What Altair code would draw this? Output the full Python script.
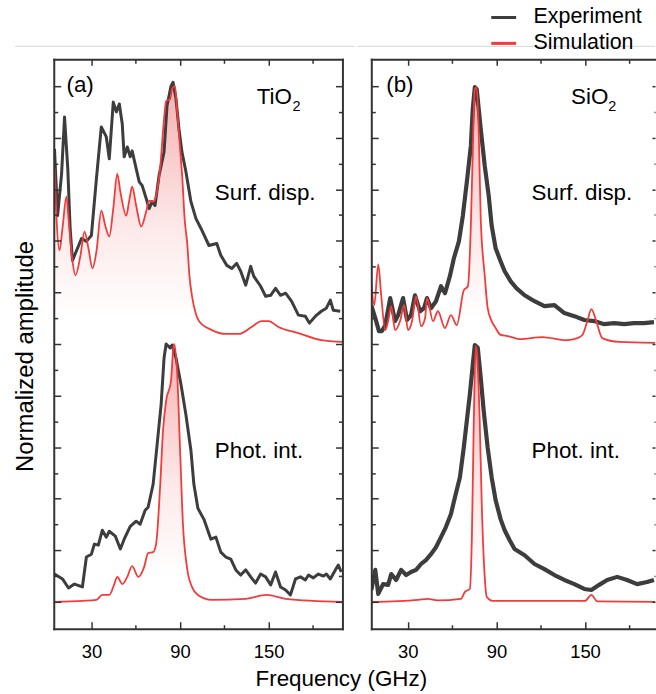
import altair as alt
import pandas as pd

# ------------------------------------------------------------------ data
SOURCES = ["Experiment", "Simulation"]
PANEL_TAGS = ["(a)", "(b)"]
MATERIALS = [("TiO", "2"), ("SiO", "2")]
MODE_LABELS = ["Surf. disp.", "Phot. int."]
X_TICKS = [30, 90, 150]
X_MINOR = [60, 120, 180]

# (a) TiO2 – surface displacement
a_surf_exp_f = [5, 7.1, 9.8, 11.8, 14.0, 15.6, 17.2, 23.3, 26.6, 30, 33.4, 36.7, 40.1, 42.1, 44.8,
                46.9, 48.9, 50.9, 52.2, 54.3, 56.3, 57.6, 60.3, 62.4, 64.4, 67.1, 69.1, 71.1, 73.1, 75.8,
                79.2, 81.2, 83.9, 85.3, 87.3, 89.3, 91.3, 94.0, 97.4, 100.8, 104.2, 109.6, 114.9, 117.6, 121.7,
                125.1, 128.4, 131.1, 134.5, 137.9, 139.9, 144.6, 148.0, 151.4, 154.7, 158.1, 161.5, 165.5, 170.2, 174.9,
                177.6, 181.7, 185.7, 189.1, 191.8, 193.8, 198.5]
a_surf_exp_v = [0.757, 0.498, 0.66, 0.880, 0.68, 0.448, 0.324, 0.409, 0.398, 0.421, 0.641, 0.842, 0.803, 0.718, 0.938,
                0.900, 0.931, 0.853, 0.726, 0.764, 0.726, 0.749, 0.680, 0.629, 0.614, 0.564, 0.525, 0.552, 0.537, 0.653,
                0.745, 0.923, 1.000, 1.015, 0.950, 0.834, 0.745, 0.668, 0.552, 0.486, 0.448, 0.382, 0.390, 0.344, 0.305,
                0.293, 0.313, 0.282, 0.228, 0.301, 0.263, 0.224, 0.185, 0.189, 0.216, 0.189, 0.197, 0.166, 0.112, 0.108,
                0.081, 0.108, 0.127, 0.139, 0.170, 0.131, 0.127]
a_surf_sim_f = [5.1, 6.4, 8.4, 10.4, 13.1, 14.5, 17.2, 19.2, 22.6, 25.3, 28.0, 30.7, 33.4, 36.7, 39.4,
                42.1, 44.8, 47.5, 49.6, 53.6, 55.6, 57.6, 60.3, 63.7, 67.1, 69.1, 71.8, 73.8, 76.5, 79.2,
                80.6, 83.3, 84.6, 86.6, 88.0, 90.0, 91.6, 93.2, 94.9, 96.3, 98.3, 100.6, 102.8, 111.6, 121.0,
                129.8, 138.5, 145.3, 150.0, 156.7, 170.2, 185.7, 199.9]
a_surf_sim_v = [0.680, 0.486, 0.363, 0.448, 0.571, 0.486, 0.320, 0.266, 0.344, 0.436, 0.371, 0.293, 0.359, 0.517, 0.459,
                0.417, 0.525, 0.660, 0.591, 0.498, 0.556, 0.610, 0.537, 0.456, 0.514, 0.556, 0.552, 0.575, 0.680, 0.873,
                0.942, 0.950, 0.988, 1.000, 0.911, 0.76, 0.64, 0.48, 0.39, 0.27, 0.18, 0.12, 0.089, 0.054, 0.039,
                0.039, 0.066, 0.089, 0.089, 0.066, 0.042, 0.015, 0.008]
# (a) TiO2 – photoelastic interaction
a_phot_exp_f = [5, 10.4, 14.5, 18.5, 23.9, 26.6, 30.0, 32.0, 34.7, 37.4, 40.1, 42.1, 46.2, 49.6, 52.2,
                56.3, 60.3, 63.0, 66.4, 68.4, 71.8, 74.5, 77.2, 79.2, 80.6, 83.3, 84.6, 87.3, 90.7, 94.0,
                97.4, 99.4, 102.1, 106.2, 110.9, 114.3, 117.6, 121.0, 124.4, 127.8, 131.1, 134.5, 137.9, 141.2, 144.6,
                148.0, 151.4, 154.7, 158.1, 161.5, 164.8, 168.2, 171.6, 174.9, 177.0, 180.3, 183.7, 187.1, 189.1, 191.8,
                195.2, 197.2, 199.2]
a_phot_exp_v = [0.108, 0.089, 0.054, 0.069, 0.058, 0.174, 0.185, 0.224, 0.220, 0.278, 0.251, 0.274, 0.255, 0.205, 0.243,
                0.293, 0.313, 0.301, 0.355, 0.367, 0.456, 0.610, 0.764, 0.946, 1.000, 0.985, 0.996, 0.946, 0.842, 0.726,
                0.587, 0.456, 0.363, 0.320, 0.243, 0.251, 0.193, 0.174, 0.166, 0.124, 0.104, 0.124, 0.097, 0.073, 0.108,
                0.097, 0.066, 0.116, 0.058, 0.046, 0.027, 0.089, 0.097, 0.085, 0.104, 0.093, 0.108, 0.100, 0.108, 0.089,
                0.124, 0.143, 0.116]
a_phot_sim_f = [5, 23.9, 33.4, 37.4, 42.1, 45.5, 47.5, 50.9, 54.3, 57.6, 61.7, 65.7, 68.4, 71.8, 73.8,
                76.5, 78.5, 80.6, 83.9, 85.3, 86.0, 88.0, 90.0, 92.0, 94.7, 98.1, 102.1, 111.6, 134.5, 148.7,
                161.5, 199.9]
a_phot_sim_v = [0, 0.004, 0.008, 0.027, 0.027, 0.069, 0.097, 0.069, 0.097, 0.139, 0.097, 0.135, 0.189, 0.193, 0.224,
                0.444, 0.664, 0.780, 0.857, 0.973, 1.000, 0.896, 0.598, 0.301, 0.135, 0.058, 0.027, 0.008, 0.012, 0.027,
                0.012, 0]
# (b) SiO2 – surface displacement
b_surf_exp_f = [5.3, 8.0, 10.5, 12.5, 14.7, 18.1, 21.4, 23.5, 26.8, 29.5, 32.2, 34.9, 38.3, 41.0, 43.0,
                45.7, 49.1, 52.5, 55.2, 58.5, 61.2, 64.6, 67.3, 70.0, 72.7, 74.0, 75.4, 76.7, 79.4, 82.1,
                84.8, 86.8, 89.5, 92.9, 95.6, 99.7, 103.7, 109.1, 115.8, 122.5, 129.3, 136.0, 142.8, 149.5, 156.3,
                163.0, 169.8, 176.5, 183.2, 190.0, 196.7]
b_surf_exp_v = [0.15, 0.10, 0.05, 0.05, 0.073, 0.178, 0.089, 0.112, 0.178, 0.093, 0.112, 0.189, 0.127, 0.139, 0.178,
                0.139, 0.166, 0.224, 0.197, 0.263, 0.332, 0.398, 0.498, 0.629, 0.768, 0.911, 0.996, 0.988, 0.834, 0.691,
                0.575, 0.459, 0.371, 0.320, 0.282, 0.243, 0.216, 0.189, 0.166, 0.147, 0.151, 0.120, 0.108, 0.093, 0.089,
                0.077, 0.081, 0.077, 0.081, 0.081, 0.085]
b_surf_sim_f = [5.2, 7.3, 10.0, 12.0, 14.7, 16.7, 18.8, 21.4, 24.8, 27.5, 30.2, 32.9, 35.6, 39.0, 41.7,
                43.0, 47.1, 50.4, 55.2, 59.2, 63.2, 67.9, 70.7, 72.7, 74.0, 75.4, 76.7, 78.1, 79.4, 82.1,
                84.1, 86.8, 89.5, 92.9, 97.6, 105.7, 121.2, 137.4, 144.9, 148.2, 151.6, 154.3, 157.6, 161.7, 173.1,
                197.4]
b_surf_sim_v = [0.243, 0.151, 0.309, 0.189, 0.054, 0.089, 0.147, 0.054, 0.089, 0.151, 0.054, 0.089, 0.185, 0.069, 0.100,
                0.178, 0.089, 0.127, 0.062, 0.112, 0.073, 0.208, 0.224, 0.459, 0.745, 0.988, 0.996, 0.807, 0.486, 0.266,
                0.139, 0.089, 0.062, 0.035, 0.031, 0.019, 0.027, 0.015, 0.023, 0.035, 0.089, 0.135, 0.089, 0.023, 0.008,
                0.004]
# (b) SiO2 – photoelastic interaction
b_phot_exp_f = [5.3, 8.0, 10.0, 13.3, 16.7, 18.8, 22.1, 25.5, 28.9, 32.2, 35.6, 39.0, 42.3, 45.7, 49.1,
                52.5, 55.8, 59.2, 61.9, 65.3, 67.9, 70.0, 72.0, 74.0, 75.4, 77.4, 79.4, 81.4, 84.1, 86.8,
                89.5, 92.9, 95.6, 99.0, 102.3, 109.1, 115.8, 122.5, 129.3, 136.0, 142.8, 149.5, 154.3, 159.6, 165.0,
                171.8, 178.5, 185.3, 192.0, 196.7]
b_phot_exp_v = [0.046, 0.124, 0.031, 0.069, 0.066, 0.108, 0.085, 0.124, 0.104, 0.116, 0.124, 0.147, 0.162, 0.185, 0.212,
                0.251, 0.290, 0.340, 0.405, 0.483, 0.598, 0.703, 0.803, 0.919, 0.996, 0.985, 0.869, 0.741, 0.598, 0.483,
                0.394, 0.320, 0.278, 0.239, 0.205, 0.181, 0.147, 0.127, 0.104, 0.085, 0.069, 0.050, 0.046, 0.066, 0.085,
                0.097, 0.085, 0.069, 0.077, 0.085]
b_phot_sim_f = [5.3, 37, 43.7, 50, 66, 68.7, 72.0, 73.4, 74.7, 76.0, 76.7, 78.7, 80.1, 82.1, 83.5,
                87.5, 150, 154.3, 158.3, 197.4]
b_phot_sim_v = [0, 0.008, 0.012, 0.006, 0.012, 0.039, 0.050, 0.251, 0.703, 0.992, 0.973, 0.703, 0.378, 0.097, 0.019,
                0.004, 0.004, 0.027, 0.002, 0]

# ------------------------------------------------------------------ style
FONT = "Liberation Sans"
AX = "#333333"
EXP_C = "#3d3d3d"
SIM_C = "#f23b3b"
HEIGHT = 572
YDOM = [-0.104, 2.104]
OFFSET = {"surf": 1.0, "phot": 0.0}


def curve(mode, source, f, v):
    assert len(f) == len(v), (mode, source, len(f), len(v))
    off = OFFSET[mode]
    return pd.DataFrame({"mode": mode, "source": source, "freq": f, "amp": v,
                         "y": [a + off for a in v], "base": off})


LEGEND = alt.Legend(title=None, orient="none", legendX=438, legendY=-56, direction="vertical",
                    symbolType="stroke", symbolSize=625, symbolStrokeWidth=3,
                    labelFont=FONT, labelFontSize=21.5, labelColor="black", labelOffset=16,
                    rowPadding=1, padding=0)
COLOR = alt.Color("source:N", scale=alt.Scale(domain=SOURCES, range=[EXP_C, SIM_C]), legend=LEGEND)


def tick_axis(orient, values, size):
    return alt.Axis(orient=orient, values=values, ticks=True, tickSize=size, offset=-size,
                    tickColor=AX, tickWidth=1.5, domain=False, labels=False, grid=False,
                    title=None, zindex=3)


def line_axis(orient, **kw):
    return alt.Axis(orient=orient, values=[], ticks=False, labels=False, domain=True,
                    domainColor=AX, domainWidth=2, domainCap="square", grid=False, zindex=3, **kw)


def build_panel(idx, exp_df, sim_df, xdom, width, ann_x, sub_x, rule_x, exp_w, right_dom, rmaj, rmin):
    xs = alt.Scale(domain=xdom, nice=False, zero=False)
    ys = alt.Scale(domain=YDOM, nice=False, zero=False)

    bottom_main = alt.Axis(orient="bottom", values=X_TICKS, ticks=False, domain=True, domainColor=AX,
                           domainWidth=2, domainCap="square", labels=True, labelFont=FONT,
                           labelFontSize=18.5, labelColor="black", labelPadding=14, grid=False,
                           title=None, zindex=3)
    if idx == 0:
        left_main = line_axis("left", title="Normalized amplitude", titleFont=FONT, titleFontSize=24,
                              titleFontWeight="normal", titleColor="black", titlePadding=16, titleY=298)
    else:
        left_main = line_axis("left", title=None)
    ymaj = [round(0.2 * i, 1) for i in range(11)]
    ymin = [round(0.1 + 0.2 * i, 1) for i in range(10)]
    pairs = [
        (bottom_main, left_main),
        (tick_axis("bottom", X_TICKS, 7), tick_axis("left", ymaj, 7)),
        (tick_axis("bottom", X_MINOR, 4), tick_axis("left", ymin, 4)),
        (line_axis("top", title=None), line_axis("right", title=None) if right_dom else None),
        (tick_axis("top", X_TICKS, 6), tick_axis("right", ymaj, rmaj)),
        (tick_axis("top", X_MINOR, 4), tick_axis("right", ymin, rmin)),
    ]

    def X(p, field="freq"):
        return alt.X(field, type="quantitative", scale=xs, axis=pairs[p][0])

    def Y(p, field="y"):
        return alt.Y(field, type="quantitative", scale=ys, axis=pairs[p][1])

    grad = alt.Gradient(gradient="linear",
                        stops=[alt.GradientStop(color="#f5b0b0", offset=0),
                               alt.GradientStop(color="#fde9e9", offset=0.55),
                               alt.GradientStop(color="#ffffff", offset=0.9)],
                        x1=1, x2=1, y1=0, y2=1)

    area = alt.Chart(sim_df).mark_area(color=grad, interpolate="monotone", clip=True).encode(
        x=X(0), y=Y(0), y2=alt.Y2("base:Q"), detail="mode:N")
    exp = alt.Chart(exp_df).mark_line(strokeWidth=exp_w, clip=True, strokeJoin="round").encode(
        x=X(1), y=Y(1), detail="mode:N", color=COLOR)
    sim = alt.Chart(sim_df).mark_line(strokeWidth=1.8, interpolate="monotone", clip=True).encode(
        x=X(2), y=Y(2), detail="mode:N", color=COLOR)

    mat, sub = MATERIALS[idx]
    ann = pd.DataFrame({"label": [PANEL_TAGS[idx], mat, MODE_LABELS[0], MODE_LABELS[1]],
                        "freq": ann_x, "y": [1.978, 1.931, 1.557, 0.557]})
    text = alt.Chart(ann).mark_text(font=FONT, fontSize=22.5, align="left", baseline="alphabetic",
                                    color="black").encode(x=X(3), y=Y(3), text="label:N")
    subdf = pd.DataFrame({"label": [sub], "freq": [sub_x], "y": [1.905]})
    subt = alt.Chart(subdf).mark_text(font=FONT, fontSize=14.5, align="left", baseline="alphabetic",
                                      color="black").encode(x=X(4), y=Y(4), text="label:N")
    carrier = alt.Chart(pd.DataFrame({"freq": [100.0], "y": [1.0]})).mark_point(opacity=0).encode(
        x=X(5), y=Y(5))
    rule = alt.Chart(pd.DataFrame({"k": [0]})).mark_rule(color="#d6d6d6", strokeWidth=1).encode(
        x=alt.value(rule_x[0]), x2=alt.value(rule_x[1]), y=alt.value(-13))

    return alt.layer(area, exp, sim, text, subt, carrier, rule).resolve_scale(
        x="shared", y="shared").resolve_axis(x="independent", y="independent").properties(
        width=width, height=HEIGHT)


a_exp = pd.concat([curve("surf", SOURCES[0], a_surf_exp_f, a_surf_exp_v),
                   curve("phot", SOURCES[0], a_phot_exp_f, a_phot_exp_v)])
a_sim = pd.concat([curve("surf", SOURCES[1], a_surf_sim_f, a_surf_sim_v),
                   curve("phot", SOURCES[1], a_phot_sim_f, a_phot_sim_v)])
b_exp = pd.concat([curve("surf", SOURCES[0], b_surf_exp_f, b_surf_exp_v),
                   curve("phot", SOURCES[0], b_phot_exp_f, b_phot_exp_v)])
b_sim = pd.concat([curve("surf", SOURCES[1], b_surf_sim_f, b_surf_sim_v),
                   curve("phot", SOURCES[1], b_phot_sim_f, b_phot_sim_v)])

panel_a = build_panel(0, a_exp, a_sim, [4.5, 200], 290, [13.1, 141.9, 113.6, 113.6], 166.2,
                      (-39, 303), 3, True, 7, 4)
panel_b = build_panel(1, b_exp, b_sim, [5.3, 197.4], 285, [15.4, 140.6, 113.8, 113.8], 165.8,
                      (-14, 285), 4.2, False, 3, 1)

chart = alt.hconcat(panel_a, panel_b, spacing=0).resolve_scale(color="shared").properties(
    padding={"left": 14, "top": 2, "right": 0, "bottom": 0},
    title=alt.TitleParams("Frequency (GHz)", orient="bottom", anchor="middle", dx=6.5, offset=7,
                          font=FONT, fontSize=22.5, fontWeight="normal", color="black"),
).configure_view(stroke=None)

chart.save("out.html", embed_options={"renderer": "svg", "actions": False})
